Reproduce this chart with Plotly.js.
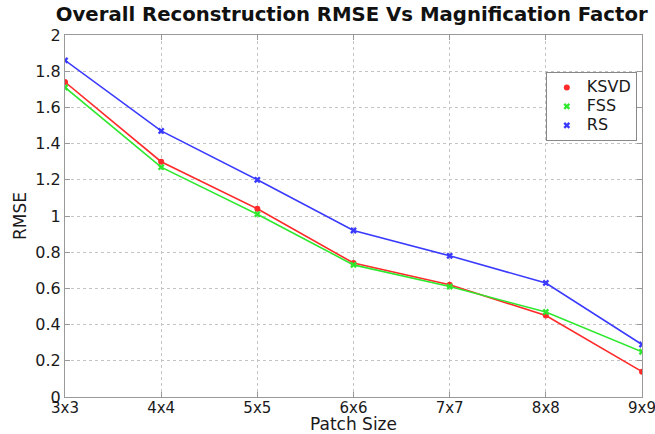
<!DOCTYPE html>
<html>
<head>
<meta charset="utf-8">
<script src="https://cdn.plot.ly/plotly-3.0.1.min.js"></script>
<style>html,body{margin:0;padding:0;background:#fff;}#chart{width:655px;height:434px;}</style>
</head>
<body>
<div id="chart"></div>
<script>
const patchSizes = ["3x3", "4x4", "5x5", "6x6", "7x7", "8x8", "9x9"];
const ksvd = [1.74, 1.30, 1.04, 0.74, 0.62, 0.45, 0.14];
const fss  = [1.71, 1.27, 1.01, 0.73, 0.61, 0.47, 0.25];
const rs   = [1.86, 1.47, 1.20, 0.92, 0.78, 0.63, 0.29];
const yTicks = [0, 0.2, 0.4, 0.6, 0.8, 1, 1.2, 1.4, 1.6, 1.8, 2];
const seriesNames = ["KSVD", "FSS", "RS"];

const series = [
  {name: seriesNames[0], y: ksvd, color: "#ff2a2a", symbol: "circle", size: 6},
  {name: seriesNames[1], y: fss,  color: "#2ee82e", symbol: "x", size: 6},
  {name: seriesNames[2], y: rs,   color: "#3a3aff", symbol: "x", size: 6}
];

const traces = [];
series.forEach(s => {
  traces.push({
    x: patchSizes, y: s.y, type: "scatter", mode: "lines+markers",
    line: {color: s.color, width: 1.6},
    marker: {color: s.color, symbol: s.symbol, size: s.size},
    showlegend: false, hoverinfo: "skip"
  });
});
series.forEach(s => {
  traces.push({
    x: [null], y: [null], type: "scatter", mode: "markers",
    name: '<span style="font-size:16px">' + s.name + '</span>',
    marker: {color: s.color, symbol: s.symbol, size: s.size},
    showlegend: true
  });
});

const FONT = "DejaVu Sans, Verdana, sans-serif";
const layout = {
  width: 655, height: 434,
  margin: {l: 65, r: 13, t: 35, b: 37},
  paper_bgcolor: "#fff", plot_bgcolor: "#fff",
  font: {family: FONT, color: "#222"},
  title: {text: "<b>Overall Reconstruction RMSE Vs Magnification Factor</b>",
          font: {size: 19.7, color: "#111", family: FONT}, x: 0.537, xanchor: "center", y: 0.968, yanchor: "middle"},
  xaxis: {
    type: "category", range: [0, 6], tickvals: patchSizes, ticktext: patchSizes,
    showgrid: true, gridcolor: "#c4c4c4", griddash: "dot", gridwidth: 1,
    showline: true, linecolor: "#999", linewidth: 1, mirror: "ticks",
    ticks: "inside", ticklen: 5, tickcolor: "#999",
    tickfont: {size: 15, color: "#1a1a1a"}, ticklabelstandoff: -3,
    title: {text: "Patch Size", font: {size: 17, color: "#1a1a1a"}, standoff: 0},
    zeroline: false, automargin: false
  },
  yaxis: {
    range: [0, 2], tickvals: yTicks, ticktext: yTicks.map(v => String(v)),
    showgrid: true, gridcolor: "#c4c4c4", griddash: "dot", gridwidth: 1,
    showline: true, linecolor: "#999", linewidth: 1, mirror: "ticks",
    ticks: "inside", ticklen: 5, tickcolor: "#999",
    tickfont: {size: 16, color: "#1a1a1a"},
    title: {text: "RMSE", font: {size: 17, color: "#1a1a1a"}, standoff: 4},
    zeroline: false, automargin: false
  },
  legend: {
    x: 0.991, y: 0.898, xanchor: "right", yanchor: "top",
    bgcolor: "#fff", bordercolor: "#888", borderwidth: 1,
    font: {size: 12, color: "#1a1a1a"}, itemwidth: 30, tracegroupgap: 0
  },
  showlegend: true
};

Plotly.newPlot("chart", traces, layout, {displayModeBar: false, staticPlot: true});
</script>
</body>
</html>
